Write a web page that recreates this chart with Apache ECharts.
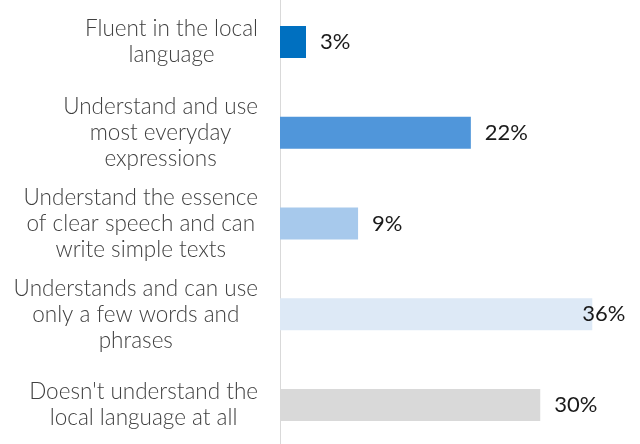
<!DOCTYPE html>
<html>
<head>
<meta charset="utf-8">
<style>
  html, body { margin: 0; padding: 0; background: #ffffff; }
  #chart { width: 640px; height: 444px; }
</style>
<script src="https://cdn.jsdelivr.net/npm/echarts@6/dist/echarts.min.js"></script>
</head>
<body>
<div id="chart"></div>
<script>
// Language proficiency levels, top to bottom
const categories = [
  "Fluent in the local\nlanguage",
  "Understand and use\nmost everyday\nexpressions",
  "Understand the essence\nof clear speech and can\nwrite simple texts",
  "Understands and can use\nonly a few words and\nphrases",
  "Doesn't understand the\nlocal language at all"
];
// Share of respondents, in percent
const shares = [3, 22, 9, 36, 30];
const barColors = ["#0070C0", "#5096DA", "#A7C9EC", "#DDE9F6", "#D9D9D9"];

const chart = echarts.init(document.getElementById("chart"), null, { renderer: "canvas" });

chart.setOption({
  animation: false,
  backgroundColor: "#ffffff",
  grid: {
    left: 280, right: 13, top: -3.4, bottom: -6.4,
    containLabel: false,
    outerBoundsMode: "none"
  },
  xAxis: {
    type: "value",
    min: 0,
    max: 40,
    show: false
  },
  yAxis: {
    type: "category",
    inverse: true,
    data: categories,
    axisLine: { show: true, lineStyle: { color: "#D9D9D9", width: 1 } },
    axisTick: { show: false },
    splitLine: { show: false },
    axisLabel: {
      margin: 22,
      align: "right",
      // each line centred within the right-aligned label block
      formatter: (txt) => txt.split("\n").map(s => "{c|" + s + "}").join("\n"),
      rich: {
        c: {
          align: "center",
          fontFamily: "Lato",
          fontWeight: 300,
          fontSize: 22.5,
          lineHeight: 26,
          color: "#404040"
        }
      }
    }
  },
  series: [{
    type: "bar",
    barWidth: 32,
    data: shares.map((v, i) => ({
      value: v,
      itemStyle: { color: barColors[i] },
      label: i === 3 ? { offset: [-24, 0] } : {}
    })),
    label: {
      show: true,
      position: "right",
      distance: 14,
      formatter: "{c}%",
      fontFamily: "Lato",
      fontSize: 22,
      color: "#1a1a1a"
    }
  }]
});
</script>
</body>
</html>
